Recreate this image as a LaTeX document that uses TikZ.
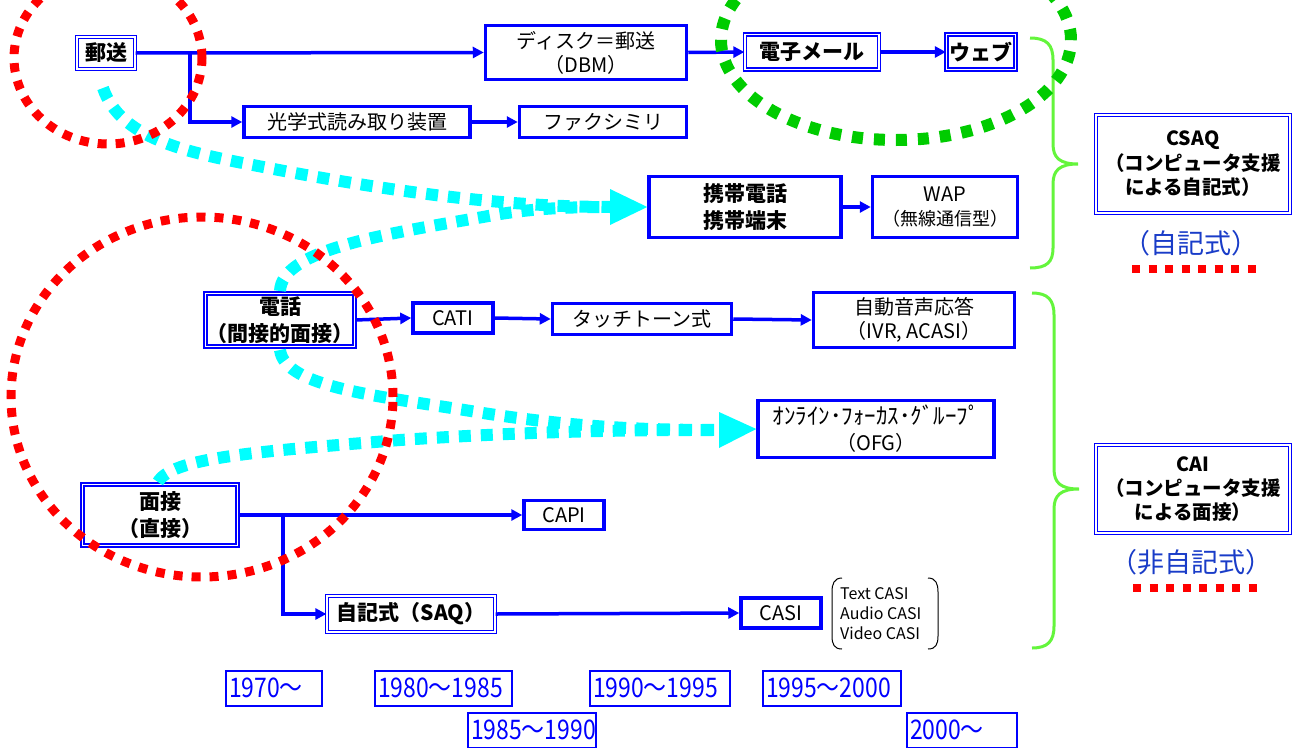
\documentclass[tikz,border=0pt]{standalone}
\usepackage{fontspec}
\setmainfont{Noto Sans CJK JP}
\newfontfamily\yearfont[FakeStretch=0.85]{Noto Sans CJK JP}
\usetikzlibrary{arrows.meta}
\definecolor{pblue}{RGB}{0,0,255}
\definecolor{pcyan}{RGB}{0,255,255}
\definecolor{pred}{RGB}{255,0,0}
\definecolor{pgreen}{RGB}{0,204,0}
\definecolor{lgreen}{RGB}{100,245,60}
\definecolor{tblue}{RGB}{25,60,200}
\begin{document}
\begin{tikzpicture}[x=1pt,y=-1pt,
  box/.style={draw=pblue, line width=3.5pt, fill=white, inner sep=0pt, align=center, font=\fontsize{20}{24}\selectfont},
  dbox/.style={draw=pblue, line width=1.3pt, double=white, double distance=1.6pt, fill=white, inner sep=0pt, align=center, font=\bfseries\fontsize{21}{27}\selectfont},
  conn/.style={draw=pblue, line width=3.5pt, -{Triangle[length=11pt,width=11pt]}},
  cyanline/.style={draw=pcyan, line width=12pt, dash pattern=on 12pt off 10pt},
  redring/.style={draw=pred, line width=9pt, dash pattern=on 9pt off 9pt},
  greenring/.style={draw=pgreen, line width=12pt, dash pattern=on 11pt off 11pt},
  redunder/.style={draw=pred, line width=8pt, dash pattern=on 8pt off 8.5pt},
  brace/.style={draw=lgreen, line width=3pt},
  yr/.style={draw=pblue, line width=2pt, fill=white, text=pblue, minimum height=35pt, inner xsep=3pt, inner ysep=0pt, text width=#1, align=left, font=\yearfont\fontsize{27}{28}\selectfont},
  bigtxt/.style={text=tblue, inner sep=0pt, font=\fontsize{27}{30}\selectfont}
]
\useasboundingbox (0,0) rectangle (1293,747);

% ---- nodes
\node[dbox, minimum width=58pt, minimum height=32pt] (yuso) at (106,53) {郵送};
\node[box, minimum width=201pt, minimum height=54pt] (disk) at (586,52.5) {ディスク＝郵送\\（DBM）};
\node[dbox, minimum width=134pt, minimum height=35pt] (email) at (812,52) {電子メール};
\node[dbox, minimum width=69pt, minimum height=35pt] (web) at (981,52) {ウェブ};
\node[box, minimum width=226pt, minimum height=31pt] (ocr) at (357,122) {光学式読み取り装置};
\node[box, minimum width=167pt, minimum height=31pt] (fax) at (603,122) {ファクシミリ};
\node[box, minimum width=192pt, minimum height=61pt, font=\bfseries\fontsize{21}{27}\selectfont] (mobile) at (745,207) {携帯電話\\携帯端末};
\node[box, minimum width=145pt, minimum height=61pt] (wap) at (945,207) {WAP\\{\fontsize{18}{22}\selectfont（無線通信型）}};
\node[dbox, minimum width=194pt, minimum height=98pt, font=\bfseries\fontsize{19.5}{24.5}\selectfont] (csaq) at (1193,164) {CSAQ\\（コンピュータ支援\\による自記式）};
\node[bigtxt] (jiki) at (1191,243) {（自記式）};

\node[dbox, minimum width=149pt, minimum height=53pt] (tel) at (280,320) {電話\\（間接的面接）};
\node[box, minimum width=80pt, minimum height=30pt] (cati) at (453,318) {CATI};
\node[box, minimum width=179pt, minimum height=31pt] (touch) at (642,319) {タッチトーン式};
\node[box, minimum width=201pt, minimum height=55pt] (ivr) at (914,320) {自動音声応答\\（IVR, ACASI）};
\node[box, minimum width=236pt, minimum height=57pt, font=\fontsize{23}{26}\selectfont] (ofg) at (876,429) {ｵﾝﾗｲﾝ･ﾌｫｰｶｽ･ｸﾞﾙｰﾌﾟ\\{\fontsize{20}{24}\selectfont（OFG）}};
\node[dbox, minimum width=155pt, minimum height=61pt] (face) at (160,515) {面接\\（直接）};
\node[box, minimum width=80pt, minimum height=29pt] (capi) at (564,515) {CAPI};
\node[dbox, minimum width=168pt, minimum height=36pt] (saq) at (411,614) {自記式（SAQ）};
\node[box, minimum width=80pt, minimum height=30pt] (casi) at (781,613) {CASI};
\node[anchor=west, inner sep=0pt, align=left, font=\fontsize{16}{20}\selectfont] (casilist) at (840,614) {Text CASI\\Audio CASI\\Video CASI};
\node[dbox, minimum width=194pt, minimum height=88pt, font=\bfseries\fontsize{19.5}{24}\selectfont] (cai) at (1193,489) {CAI\\（コンピュータ支援\\による面接）};
\node[bigtxt] (nonjiki) at (1191,562) {（非自記式）};

% year boxes
\node[yr=90pt] (y1970) at (274,688) {1970～};
\node[yr=131pt] (y1980) at (443.5,688) {1980～1985};
\node[yr=134pt] (y1990) at (660,688) {1990～1995};
\node[yr=132pt] (y1995) at (832,688) {1995～2000};
\node[yr=122pt] (y1985) at (532,730) {1985～1990};
\node[yr=104pt] (y2000) at (962,730) {2000～};

% ---- connectors
\coordinate (b1) at (190,53);
\draw[conn] (yuso.east) -- (disk.west);
\draw[conn] (b1) |- (ocr.west);
\draw[conn] (disk.east) -- (email.west);
\draw[conn] (email.east) -- (web.west);
\draw[conn] (ocr.east) -- (fax.west);
\draw[conn] (mobile.east) -- (wap.west);
\draw[conn] (tel.east) -- (cati.west);
\draw[conn] (cati.east) -- (touch.west);
\draw[conn] (touch.east) -- (ivr.west);
\coordinate (b2) at (283,515);
\draw[conn] (face.east) -- (capi.west);
\draw[conn] (b2) |- (saq.west);
\draw[conn] (saq.east) -- (casi.west);

% bracket around CASI list
\draw[line width=1pt] (842,578) .. controls (834,578) and (832,584) .. (832,592) -- (832,636) .. controls (832,644) and (834,649) .. (842,649);
\draw[line width=1pt] (928,578) .. controls (936,578) and (938,584) .. (938,592) -- (938,636) .. controls (938,644) and (936,649) .. (928,649);

% ---- green braces
\draw[brace] (1030,38) .. controls (1047,38) and (1053,45) .. (1053,60) -- (1053,144) .. controls (1053,158) and (1060,164) .. (1078,164) .. controls (1060,164) and (1053,170) .. (1053,184) -- (1053,248) .. controls (1053,262) and (1047,268) .. (1030,268);
\draw[brace] (1032,293) .. controls (1048,293) and (1054,300) .. (1054,315) -- (1054,469) .. controls (1054,483) and (1061,489) .. (1079,489) .. controls (1061,489) and (1054,495) .. (1054,509) -- (1054,626) .. controls (1054,641) and (1048,648) .. (1032,648);

% ---- cyan dotted arrows
\coordinate (c1) at (103,88);
\coordinate (c2) at (280,291);
\coordinate (c3) at (280,350);
\coordinate (c4) at (158,482);
\coordinate (h1) at (612,207);
\coordinate (h2) at (721,430);
\draw[cyanline] (c1) .. controls (120,138) and (185,152) .. (253,165) .. controls (380,190) and (500,207) .. (h1);
\draw[cyanline] (c2) .. controls (282,250) and (380,235) .. (483,217) .. controls (530,208) and (570,207) .. (h1);
\draw[cyanline] (c3) .. controls (285,388) and (380,396) .. (483,413) .. controls (580,428) and (650,430) .. (h2);
\draw[cyanline] (c4) .. controls (172,458) and (250,452) .. (400,440) .. controls (550,430) and (650,430) .. (h2);
\fill[pcyan] (610,189) -- (mobile.west) -- (610,225) -- cycle;
\fill[pcyan] (719,412) -- (ofg.west) -- (719,448) -- cycle;

% ---- red and green rings
\draw[redring] (108,58) ellipse [x radius=94pt, y radius=86pt];
\draw[redring] (202,397) ellipse [x radius=191pt, y radius=180pt];
\draw[greenring] (896,40) ellipse [x radius=175pt, y radius=100pt];

% ---- red underlines
\draw[redunder] (1132,269) -- (1258,269);
\draw[redunder] (1133,588) -- (1259,588);
\end{tikzpicture}
\end{document}
